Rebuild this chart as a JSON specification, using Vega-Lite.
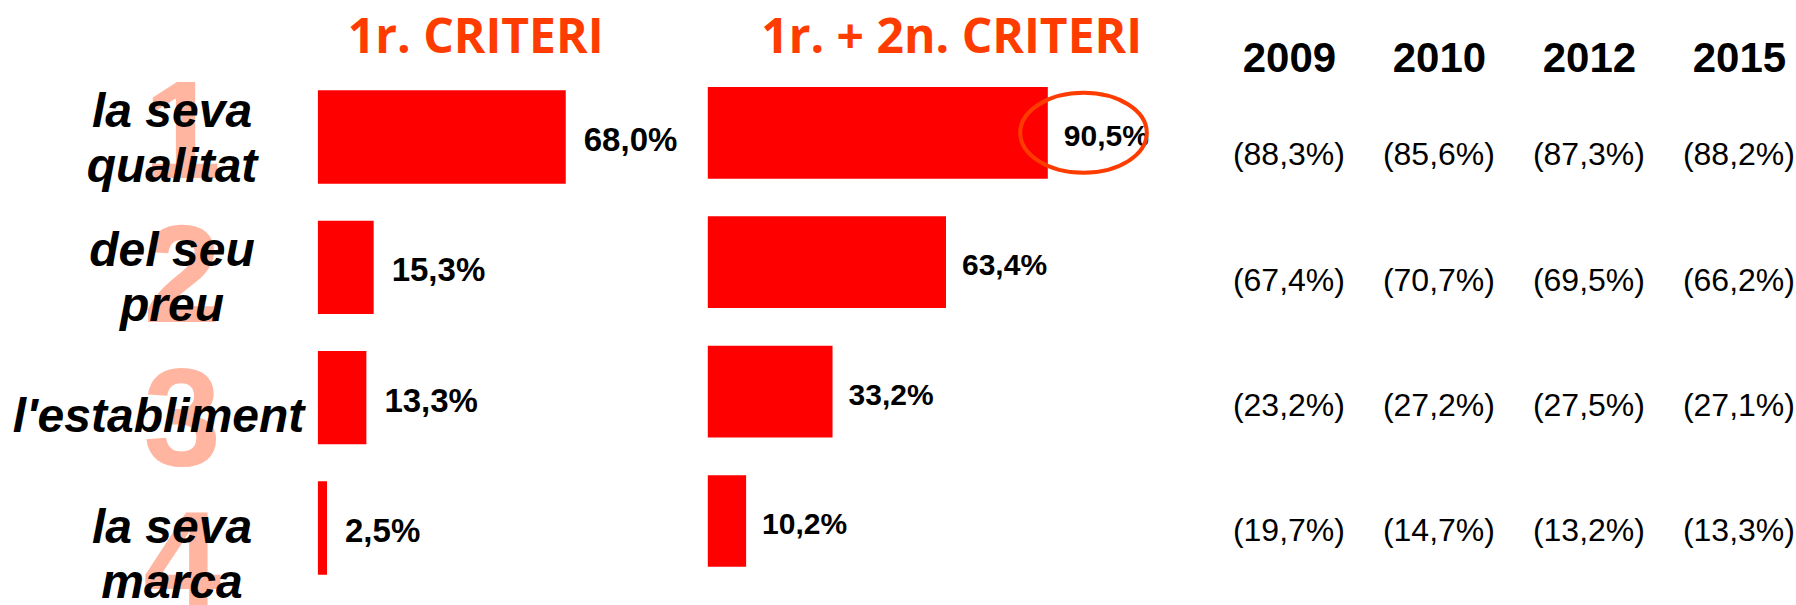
{
  "$schema": "https://vega.github.io/schema/vega-lite/v6.json",
  "padding": {"left": 0, "top": 15, "right": 0, "bottom": 0},
  "background": "white",
  "config": {
    "view": {"stroke": null},
    "locale": {"number": {"decimal": ",", "thousands": ".", "grouping": [3], "currency": ["(", "%)"]}}
  },
  "datasets": {
    "criteris": [
      {"posicio": "1", "criteri": "la seva\nqualitat", "primer": 0.680, "primer_segon": 0.905},
      {"posicio": "2", "criteri": "del seu\npreu", "primer": 0.153, "primer_segon": 0.634},
      {"posicio": "3", "criteri": "l'establiment", "primer": 0.133, "primer_segon": 0.332},
      {"posicio": "4", "criteri": "la seva\nmarca", "primer": 0.025, "primer_segon": 0.102}
    ],
    "historic": [
      {"criteri": "la seva\nqualitat", "any": "2009", "valor": 0.883},
      {"criteri": "la seva\nqualitat", "any": "2010", "valor": 0.856},
      {"criteri": "la seva\nqualitat", "any": "2012", "valor": 0.873},
      {"criteri": "la seva\nqualitat", "any": "2015", "valor": 0.882},
      {"criteri": "del seu\npreu", "any": "2009", "valor": 0.674},
      {"criteri": "del seu\npreu", "any": "2010", "valor": 0.707},
      {"criteri": "del seu\npreu", "any": "2012", "valor": 0.695},
      {"criteri": "del seu\npreu", "any": "2015", "valor": 0.662},
      {"criteri": "l'establiment", "any": "2009", "valor": 0.232},
      {"criteri": "l'establiment", "any": "2010", "valor": 0.272},
      {"criteri": "l'establiment", "any": "2012", "valor": 0.275},
      {"criteri": "l'establiment", "any": "2015", "valor": 0.271},
      {"criteri": "la seva\nmarca", "any": "2009", "valor": 0.197},
      {"criteri": "la seva\nmarca", "any": "2010", "valor": 0.147},
      {"criteri": "la seva\nmarca", "any": "2012", "valor": 0.132},
      {"criteri": "la seva\nmarca", "any": "2015", "valor": 0.133}
    ]
  },
  "spacing": 24.9,
  "bounds": "flush",
  "resolve": {"scale": {"x": "independent", "y": "independent"}},
  "hconcat": [
    {
      "width": 292.4,
      "height": 535,
      "data": {"name": "criteris"},
      "resolve": {"scale": {"y": "independent"}},
      "layer": [
        {
          "mark": {"type": "text", "font": "Liberation Sans", "fontWeight": "bold", "fontSize": 140,
                   "color": "#ffb5a0", "dx": 36, "baseline": "middle", "align": "center", "clip": true},
          "encoding": {
            "y": {"field": "posicio", "type": "ordinal", "axis": null,
                  "scale": {"type": "band", "paddingInner": 0.45, "paddingOuter": 0.089, "align": 1}},
            "text": {"field": "posicio", "type": "nominal"}
          }
        },
        {
          "encoding": {
            "y": {"field": "posicio", "type": "ordinal", "axis": null,
                  "scale": {"type": "band", "domain": ["1", "2", "3", "4"], "paddingInner": 0.2872, "paddingOuter": 0.0736, "align": 1}}
          },
          "layer": [
            {
              "transform": [{"filter": "datum.posicio != '3'"}],
              "mark": {"type": "text", "font": "Liberation Sans", "fontWeight": "bold", "fontStyle": "italic",
                       "fontSize": 48, "lineBreak": "\n", "lineHeight": 55, "dx": 25.8, "dy": -27.5,
                       "baseline": "middle", "align": "center", "clip": true, "color": "black"},
              "encoding": {"text": {"field": "criteri", "type": "nominal"}}
            },
            {
              "transform": [{"filter": "datum.posicio == '3'"}],
              "mark": {"type": "text", "font": "Liberation Sans", "fontWeight": "bold", "fontStyle": "italic",
                       "fontSize": 48, "dx": 12.4,
                       "baseline": "middle", "align": "center", "color": "black"},
              "encoding": {"text": {"field": "criteri", "type": "nominal"}}
            }
          ]
        }
      ]
    },
    {
      "width": 364.5,
      "height": 523,
      "title": {"text": "1r. CRITERI", "font": "Open Sans", "fontWeight": "bold", "fontSize": 48,
                "color": "#ff3c00", "anchor": "middle", "dx": -24.5, "offset": -30, "baseline": "alphabetic"},
      "data": {"name": "criteris"},
      "encoding": {
        "y": {"field": "criteri", "type": "nominal", "sort": null, "axis": null,
              "scale": {"type": "band", "paddingInner": 0.2841, "paddingOuter": 0.1485}},
        "x": {"field": "primer", "type": "quantitative", "axis": null, "scale": {"domain": [0, 1], "nice": false}}
      },
      "layer": [
        {"mark": {"type": "bar", "color": "#ff0000"}},
        {
          "mark": {"type": "text", "align": "left", "baseline": "middle", "dx": 18, "dy": 4,
                   "font": "Liberation Sans", "fontWeight": "bold", "fontSize": 33, "color": "black"},
          "encoding": {"text": {"field": "primer", "type": "quantitative", "format": ".1%"}}
        }
      ]
    },
    {
      "width": 375.7,
      "height": 511.8,
      "title": {"text": "1r. + 2n. CRITERI", "font": "Open Sans", "fontWeight": "bold", "fontSize": 48,
                "color": "#ff3c00", "anchor": "middle", "dx": 56, "offset": -30, "baseline": "alphabetic"},
      "data": {"name": "criteris"},
      "encoding": {
        "y": {"field": "criteri", "type": "nominal", "sort": null, "axis": null,
              "scale": {"type": "band", "paddingInner": 0.2913, "paddingOuter": 0.12324}},
        "x": {"field": "primer_segon", "type": "quantitative", "axis": null, "scale": {"domain": [0, 1], "nice": false}}
      },
      "layer": [
        {"mark": {"type": "bar", "color": "#ff0000"}},
        {
          "mark": {"type": "text", "align": "left", "baseline": "middle", "dx": 16, "dy": 4,
                   "font": "Liberation Sans", "fontWeight": "bold", "fontSize": 30, "color": "black"},
          "encoding": {"text": {"field": "primer_segon", "type": "quantitative", "format": ".1%"}}
        },
        {
          "transform": [{"filter": "datum.posicio == '1'"}],
          "mark": {"type": "point",
                   "shape": "M 1 0 C 1 0.349 0.552 0.632 0 0.632 C -0.552 0.632 -1 0.349 -1 0 C -1 -0.349 -0.552 -0.632 0 -0.632 C 0.552 -0.632 1 -0.349 1 0 Z",
                   "size": 16028, "filled": false, "stroke": "#ff3c00", "strokeWidth": 4, "opacity": 1},
          "encoding": {"x": {"datum": 1}}
        }
      ]
    },
    {
      "width": 630.2,
      "height": 521,
      "data": {"name": "historic"},
      "mark": {"type": "text", "font": "Liberation Sans", "fontSize": 32, "color": "black",
               "baseline": "middle", "align": "center", "dy": 2},
      "encoding": {
        "x": {"field": "any", "type": "ordinal",
              "scale": {"type": "point", "padding": 0.6007, "align": 1},
              "axis": {"orient": "top", "title": null, "ticks": false, "domain": false, "labelAngle": 0,
                       "labelFont": "Liberation Sans", "labelFontWeight": "bold", "labelFontSize": 42,
                       "labelColor": "black", "labelPadding": 0, "labelBaseline": "alphabetic"}},
        "y": {"field": "criteri", "type": "nominal", "sort": null, "axis": null,
              "scale": {"type": "band", "paddingInner": 0, "paddingOuter": 0.079, "align": 1}},
        "text": {"field": "valor", "type": "quantitative", "format": "$.1%"}
      }
    }
  ]
}
